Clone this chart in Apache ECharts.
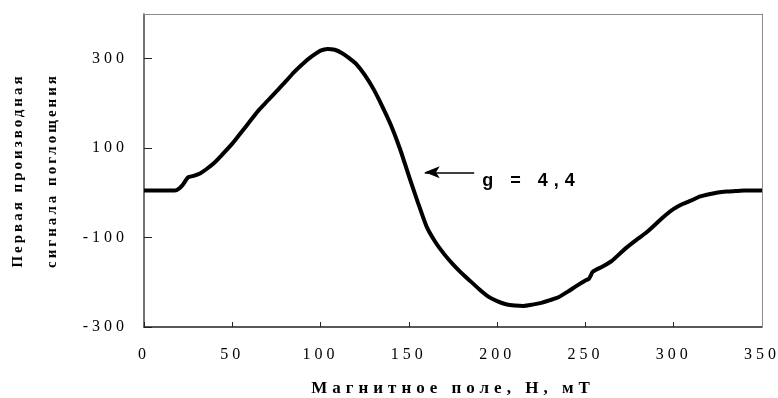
<!DOCTYPE html>
<html>
<head>
<meta charset="utf-8">
<script src="https://cdn.jsdelivr.net/npm/echarts@6/dist/echarts.min.js"></script>
<style>
    html, body { margin: 0; padding: 0; background: #fff; }
    #chart { width: 778px; height: 398px; }
</style>
</head>
<body>
<div id="chart"></div>
<script>
// магнитное поле, мТ
const fieldMT = [
    0, 5, 10, 15, 17.5, 20, 22, 24, 25, 28, 32, 36, 40, 43, 50, 55, 60, 65, 70, 75,
    80, 85, 90, 95, 100, 104, 108, 112, 116, 120, 125, 130, 135, 140, 145, 150, 155,
    160, 165, 170, 175, 180, 185, 190, 195, 200, 205, 210, 215, 220, 225, 230, 235,
    240, 245, 250, 252, 253, 254, 256, 260, 265, 270, 275, 280, 285, 290, 295, 300,
    305, 310, 315, 320, 325, 330, 335, 340, 345, 350
];
// первая производная сигнала поглощения
const derivative = [
    5, 5, 5, 5, 5, 10, 18, 30, 35, 38, 44, 55, 68, 80, 110, 135, 160, 185, 206, 227,
    248, 270, 289, 305, 318, 322, 320, 313, 302, 289, 264, 232, 193, 150, 98, 38, -20,
    -75, -110, -137, -160, -180, -198, -216, -232, -242, -249, -252, -253, -250, -246, -240, -233,
    -221, -208, -196, -192, -185, -177, -172, -164, -152, -134, -117, -102, -87, -69, -51, -36,
    -25, -17, -8, -3, 1, 3, 4, 5, 5, 5
];
const yTicksHidden = [400];
const gLabel = 'g = 4,4';
const gArrow = [[187, 46], [159, 46]];

// разрядка букв как в оригинале (Excel): по размеру шрифта
const spacingBySize = { '15px': '3px', '16px': '4px', '17px': '5px', '18px': '6px' };
const origFillText = CanvasRenderingContext2D.prototype.fillText;
CanvasRenderingContext2D.prototype.fillText = function (text, x, y, maxWidth) {
    const m = /(\d+px)/.exec(this.font || '');
    this.letterSpacing = (m && spacingBySize[m[1]]) || '0px';
    if (maxWidth === undefined) {
        origFillText.call(this, text, x, y);
    } else {
        origFillText.call(this, text, x, y, maxWidth);
    }
    this.letterSpacing = '0px';
};

const myChart = echarts.init(document.getElementById('chart'), null, {
    renderer: 'canvas'
});

const serif = "'Liberation Serif', 'Times New Roman', serif";

// рамка сверху и справа
const frameAxis = {
    type: 'value',
    axisLine: { onZero: false, lineStyle: { color: '#8c8c8c', width: 1 } },
    axisTick: { show: false },
    axisLabel: { show: false },
    splitLine: { show: false },
    z: 5
};

const options = {
    animation: false,
    grid: {
        left: 144,
        right: 16,
        top: 14,
        bottom: 71,
        outerBoundsMode: 'none'
    },
    xAxis: [
        {
            type: 'value',
            min: 0,
            max: 350,
            interval: 50,
            name: 'Магнитное поле, Н, мТ',
            nameLocation: 'middle',
            nameGap: 53,
            nameTextStyle: { fontFamily: serif, fontSize: 17, fontWeight: 'bold', color: '#000' },
            axisLine: { onZero: false, lineStyle: { color: '#222', width: 1.5 } },
            axisTick: { inside: true, length: 5, lineStyle: { color: '#222' } },
            axisLabel: { fontFamily: serif, fontSize: 16, color: '#000', margin: 20 },
            splitLine: { show: false }
        },
        { ...frameAxis, position: 'top', min: 0, max: 350 }
    ],
    yAxis: [
        {
            type: 'value',
            min: -300,
            max: 400,
            interval: 200,
            name: 'Первая производная\nсигнала поглощения',
            nameLocation: 'middle',
            nameGap: 75,
            nameTextStyle: { fontFamily: serif, fontSize: 15, fontWeight: 'bold', color: '#000', lineHeight: 34 },
            axisLine: { onZero: false, lineStyle: { color: '#444', width: 1.5 } },
            axisTick: { inside: true, length: 8, lineStyle: { color: '#222' } },
            axisLabel: {
                fontFamily: serif, fontSize: 16, color: '#000', margin: 16,
                formatter: (v) => yTicksHidden.includes(v) ? '' : String(v)
            },
            splitLine: { show: false }
        },
        { ...frameAxis, position: 'right', min: -300, max: 400 }
    ],
    series: [
        {
            type: 'line',
            data: fieldMT.map((x, i) => [x, derivative[i]]),
            showSymbol: false,
            smooth: 0.2,
            lineStyle: { color: '#000', width: 4 },
            markLine: {
                silent: true,
                symbol: ['none', 'arrow'],
                symbolSize: [9, 15],
                lineStyle: { color: '#000', width: 1.5, type: 'solid' },
                label: {
                    show: true,
                    position: 'start',
                    distance: 8,
                    formatter: gLabel,
                    fontFamily: "'Liberation Sans', Arial, sans-serif",
                    fontSize: 18,
                    fontWeight: 'bold',
                    color: '#000',
                    offset: [0, 9]
                },
                data: [[{ coord: gArrow[0] }, { coord: gArrow[1] }]]
            }
        }
    ]
};

myChart.setOption(options);

window.addEventListener('resize', () => {
    myChart.resize();
});
</script>
</body>
</html>
